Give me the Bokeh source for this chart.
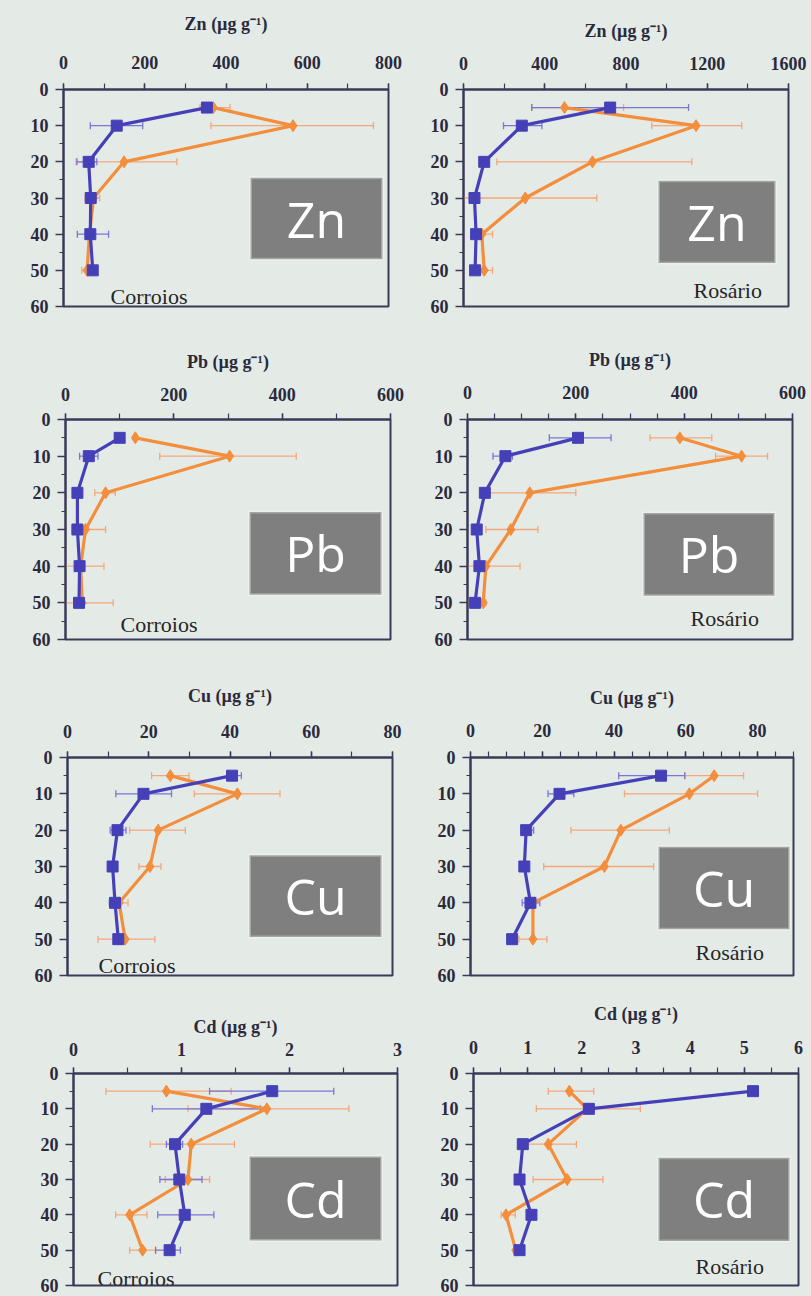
from bokeh.plotting import figure
from bokeh.layouts import column, row
from bokeh.models import (Range1d, SingleIntervalTicker, Whisker, TeeHead,
                          ColumnDataSource, Label, BoxAnnotation)
from bokeh.embed import file_html
from bokeh.resources import INLINE

# ---------------- data ----------------
depth_cm = [5, 10, 20, 30, 40, 50]

# Zn (ug/g) - Corroios
zn_cor_blue = [353, 131, 62, 67, 66, 72]
zn_cor_blue_lo = [353, 66, 33, 67, 34, 72]
zn_cor_blue_hi = [353, 195, 82, 67, 111, 72]
zn_cor_orange = [369, 565, 149, 74, 64, 58]
zn_cor_orange_lo = [336, 363, 31, 53, 64, 45]
zn_cor_orange_hi = [410, 763, 279, 89, 64, 68]

# Zn (ug/g) - Rosario
zn_ros_blue = [722, 287, 102, 54, 62, 57]
zn_ros_blue_lo = [336, 197, 102, 54, 62, 57]
zn_ros_blue_hi = [1108, 386, 102, 54, 62, 57]
zn_ros_orange = [497, 1145, 635, 304, 90, 102]
zn_ros_orange_lo = [336, 927, 164, 0, 49, 77]
zn_ros_orange_hi = [788, 1370, 1124, 656, 143, 143]

# Pb (ug/g) - Corroios
pb_cor_blue = [100, 43, 22, 22, 26, 25]
pb_cor_blue_lo = [100, 26, 22, 22, 26, 25]
pb_cor_blue_hi = [100, 60, 22, 22, 26, 25]
pb_cor_orange = [129, 303, 74, 37, 28, 31]
pb_cor_orange_lo = [129, 174, 54, 12, 0, 0]
pb_cor_orange_hi = [129, 426, 92, 74, 71, 88]

# Pb (ug/g) - Rosario
pb_ros_blue = [204, 70, 32, 17, 22, 14]
pb_ros_blue_lo = [151, 47, 32, 17, 22, 14]
pb_ros_blue_hi = [265, 83, 32, 17, 22, 14]
pb_ros_orange = [392, 506, 115, 80, 34, 29]
pb_ros_orange_lo = [337, 458, 32, 34, 0, 25]
pb_ros_orange_hi = [451, 554, 200, 130, 97, 34]

# Cu (ug/g) - Corroios
cu_cor_blue = [40.5, 18.7, 12.3, 11.1, 11.7, 12.5]
cu_cor_blue_lo = [39.4, 11.9, 10.5, 11.1, 10.3, 12.5]
cu_cor_blue_hi = [42.8, 25.6, 14.4, 11.1, 12.9, 12.5]
cu_cor_orange = [25.3, 41.8, 22.3, 20.3, 12.7, 14.2]
cu_cor_orange_lo = [20.7, 31.2, 15.3, 17.6, 10.7, 7.5]
cu_cor_orange_hi = [29.9, 52.3, 29.0, 23.0, 14.9, 21.5]

# Cu (ug/g) - Rosario
cu_ros_blue = [53.1, 24.8, 15.5, 15.0, 16.7, 11.6]
cu_ros_blue_lo = [41.3, 21.6, 14.4, 15.0, 14.4, 11.6]
cu_ros_blue_hi = [59.7, 28.8, 17.6, 15.0, 19.3, 11.6]
cu_ros_orange = [67.9, 61.0, 41.9, 37.3, 17.4, 17.4]
cu_ros_orange_lo = [59.7, 42.9, 28.0, 20.4, 17.4, 13.5]
cu_ros_orange_hi = [76.1, 80.0, 55.4, 51.0, 17.4, 21.3]

# Cd (ug/g) - Corroios
cd_cor_blue = [1.84, 1.23, 0.94, 0.98, 1.03, 0.89]
cd_cor_blue_lo = [1.26, 0.73, 0.86, 0.80, 0.78, 0.76]
cd_cor_blue_hi = [2.41, 1.73, 1.01, 1.19, 1.30, 0.99]
cd_cor_orange = [0.86, 1.79, 1.09, 1.06, 0.52, 0.64]
cd_cor_orange_lo = [0.30, 1.06, 0.71, 0.85, 0.39, 0.52]
cd_cor_orange_hi = [1.46, 2.55, 1.49, 1.26, 0.68, 0.76]

# Cd (ug/g) - Rosario
cd_ros_blue = [5.16, 2.13, 0.91, 0.85, 1.07, 0.85]
cd_ros_blue_lo = [5.16, 2.13, 0.91, 0.85, 1.07, 0.85]
cd_ros_blue_hi = [5.16, 2.13, 0.91, 0.85, 1.07, 0.85]
cd_ros_orange = [1.77, 2.10, 1.38, 1.73, 0.60, 0.78]
cd_ros_orange_lo = [1.38, 1.16, 0.83, 1.10, 0.51, 0.74]
cd_ros_orange_hi = [2.22, 3.08, 1.90, 2.39, 0.77, 0.92]

x_max = {"Zn_C": 800, "Zn_R": 1600, "Pb_C": 600, "Pb_R": 600,
         "Cu_C": 80, "Cu_R": 90, "Cd_C": 3, "Cd_R": 6}
x_label_step = {"Zn_C": 200, "Zn_R": 400, "Pb_C": 200, "Pb_R": 200,
                "Cu_C": 20, "Cu_R": 20, "Cd_C": 1, "Cd_R": 1}
x_minor = {"Zn_C": 2, "Zn_R": 2, "Pb_C": 2, "Pb_R": 4,
           "Cu_C": 2, "Cu_R": 4, "Cd_C": 2, "Cd_R": 2}

# ---------------- style ----------------
BG = "#e4ebe7"
DARK = "#2a2a3c"
AXC = "#3a3a58"
BLUE = "#4640b8"
BLUE_ERR = "#7a76d4"
ORANGE = "#f28e3c"
ORANGE_ERR = "#f4a77a"
SERIF = "Liberation Serif"


def panel(elem, key, site, blue, blo, bhi, orng, olo, ohi, lay):
    w, h, bl, br, bt, bb = lay["size"]
    xm = x_max[key]
    fw = w - bl - br
    fh = h - bt - bb

    def d(px, py):
        return px / fw * xm, py / fh * 60.0

    p = figure(width=w, height=h, x_range=Range1d(0, xm), y_range=Range1d(60, 0),
               x_axis_location="above", output_backend="svg", toolbar_location=None,
               min_border_left=bl, min_border_right=br, min_border_top=bt,
               min_border_bottom=bb)
    p.background_fill_color = BG
    p.border_fill_color = BG
    p.outline_line_color = AXC
    p.outline_line_width = 2
    p.grid.visible = False

    xa = p.xaxis[0]
    xa.ticker = SingleIntervalTicker(interval=x_label_step[key], num_minor_ticks=x_minor[key])
    xa.major_tick_out = 6
    xa.major_tick_in = 0
    xa.minor_tick_out = 6
    xa.minor_tick_in = 0
    xa.major_label_standoff = lay["lab_c"] - 16
    xa.axis_label = elem + " (\u00b5g g\u207b\u00b9)"
    xa.axis_label_standoff = lay["tit_c"] - lay["lab_c"] - 19
    ya = p.yaxis[0]
    ya.ticker = SingleIntervalTicker(interval=10, num_minor_ticks=2)
    ya.major_tick_out = 8
    ya.major_tick_in = 0
    ya.minor_tick_out = 4
    ya.minor_tick_in = 0
    ya.major_label_standoff = 7
    for ax in (xa, ya):
        ax.axis_line_color = AXC
        ax.axis_line_width = 2
        ax.major_tick_line_color = AXC
        ax.minor_tick_line_color = AXC
        ax.major_tick_line_width = 1.5
        ax.minor_tick_line_width = 1.2
        ax.major_label_text_font = SERIF
        ax.major_label_text_font_style = "bold"
        ax.major_label_text_font_size = "18px"
        ax.major_label_text_color = DARK
        ax.axis_label_text_font = SERIF
        ax.axis_label_text_font_style = "bold"
        ax.axis_label_text_font_size = "18px"
        ax.axis_label_text_color = DARK

    # grey element box
    bx0, bx1, by0, by1 = lay["box"]
    l, t = d(bx0, by0)
    r, b = d(bx1, by1)
    p.add_layout(BoxAnnotation(left=l, right=r, top=t, bottom=b, fill_color="#7f7f7f",
                               fill_alpha=1.0, line_color="white", line_width=3,
                               level="underlay"))
    cx, cy = d((bx0 + bx1) / 2, (by0 + by1) / 2)
    p.add_layout(Label(x=cx, y=cy, text=elem, text_font="Open Sans",
                       text_font_size="50px", text_color="white",
                       text_align="center", text_baseline="middle"))

    # series
    for vals, lo, hi, col, ecol, marker, msize in (
            (orng, olo, ohi, ORANGE, ORANGE_ERR, "diamond", 12),
            (blue, blo, bhi, BLUE, BLUE_ERR, "square", 11)):
        src = ColumnDataSource(dict(y=depth_cm, x=vals, lo=lo, hi=hi))
        wk = Whisker(base="y", lower="lo", upper="hi", dimension="width", source=src,
                     line_color=ecol, line_width=1.3, level="underlay",
                     lower_head=TeeHead(size=7, line_color=ecol, line_width=1.3),
                     upper_head=TeeHead(size=7, line_color=ecol, line_width=1.3))
        p.add_layout(wk)
        p.line("x", "y", source=src, line_color=col, line_width=3.2)
        p.scatter("x", "y", source=src, marker=marker, size=msize,
                  fill_color=col, line_color=col)

    # "(cm)" label
    cmx, cmy = d(lay["cm"][0], lay["cm"][1])
    p.add_layout(Label(x=cmx, y=cmy, text="(cm)", text_font=SERIF, text_font_style="bold",
                       text_font_size="17px", text_color=DARK,
                       text_align="center", text_baseline="middle"))
    # site label
    sx, sy = d(lay["site"][0], lay["site"][1])
    p.add_layout(Label(x=sx, y=sy, text=site, text_font=SERIF,
                       text_font_size="22px", text_color="#262626",
                       text_align="left", text_baseline="alphabetic"))
    return p


lay = {
    "Zn_C": dict(size=(405, 330, 63, 17, 89, 20), lab_c=31, tit_c=69,
                 box=(187, 319, 90, 173), cm=(-36, -39), site=(47, 211)),
    "Zn_R": dict(size=(406, 330, 58, 23, 87, 24), lab_c=30, tit_c=62,
                 box=(195, 312, 92, 175), cm=(-29, -34), site=(230, 203)),
    "Pb_C": dict(size=(405, 340, 65, 15, 89, 30), lab_c=29, tit_c=61,
                 box=(184, 316, 93, 176), cm=(-28, -29), site=(55, 206)),
    "Pb_R": dict(size=(406, 340, 62, 19, 88, 31), lab_c=31, tit_c=63,
                 box=(176, 307, 94, 177), cm=(-32, -33), site=(223, 200)),
    "Cu_C": dict(size=(405, 330, 67, 13, 87, 22), lab_c=30, tit_c=65,
                 box=(182, 314, 99, 182), cm=(-35, -29), site=(31, 211)),
    "Cu_R": dict(size=(406, 330, 65, 18, 83, 25), lab_c=31, tit_c=63,
                 box=(188, 319, 91, 175), cm=(-33, -31), site=(225, 199)),
    "Cd_C": dict(size=(405, 296, 73, 8, 73, 11), lab_c=28, tit_c=50,
                 box=(176, 308, 83, 167), cm=(-40, -28), site=(24, 205)),
    "Cd_R": dict(size=(406, 296, 68, 13, 71, 11), lab_c=30, tit_c=63,
                 box=(185, 316, 85, 169), cm=(-28, -30), site=(222, 195)),
}

p1 = panel("Zn", "Zn_C", "Corroios", zn_cor_blue, zn_cor_blue_lo, zn_cor_blue_hi,
           zn_cor_orange, zn_cor_orange_lo, zn_cor_orange_hi, lay["Zn_C"])
p2 = panel("Zn", "Zn_R", "Rosário", zn_ros_blue, zn_ros_blue_lo, zn_ros_blue_hi,
           zn_ros_orange, zn_ros_orange_lo, zn_ros_orange_hi, lay["Zn_R"])
p3 = panel("Pb", "Pb_C", "Corroios", pb_cor_blue, pb_cor_blue_lo, pb_cor_blue_hi,
           pb_cor_orange, pb_cor_orange_lo, pb_cor_orange_hi, lay["Pb_C"])
p4 = panel("Pb", "Pb_R", "Rosário", pb_ros_blue, pb_ros_blue_lo, pb_ros_blue_hi,
           pb_ros_orange, pb_ros_orange_lo, pb_ros_orange_hi, lay["Pb_R"])
p5 = panel("Cu", "Cu_C", "Corroios", cu_cor_blue, cu_cor_blue_lo, cu_cor_blue_hi,
           cu_cor_orange, cu_cor_orange_lo, cu_cor_orange_hi, lay["Cu_C"])
p6 = panel("Cu", "Cu_R", "Rosário", cu_ros_blue, cu_ros_blue_lo, cu_ros_blue_hi,
           cu_ros_orange, cu_ros_orange_lo, cu_ros_orange_hi, lay["Cu_R"])
p7 = panel("Cd", "Cd_C", "Corroios", cd_cor_blue, cd_cor_blue_lo, cd_cor_blue_hi,
           cd_cor_orange, cd_cor_orange_lo, cd_cor_orange_hi, lay["Cd_C"])
p8 = panel("Cd", "Cd_R", "Rosário", cd_ros_blue, cd_ros_blue_lo, cd_ros_blue_hi,
           cd_ros_orange, cd_ros_orange_lo, cd_ros_orange_hi, lay["Cd_R"])

layout = column(row(p1, p2, spacing=0), row(p3, p4, spacing=0),
                row(p5, p6, spacing=0), row(p7, p8, spacing=0), spacing=0)

html = file_html(layout, INLINE, title="Soil profiles")
html = html.replace("<body>", '<body style="margin:0;background:%s;">' % BG)
open("out.html", "w").write(html)
